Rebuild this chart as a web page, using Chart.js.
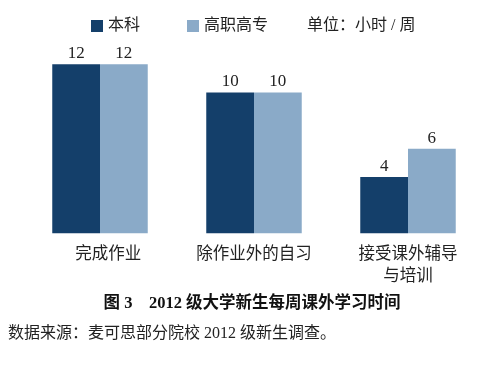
<!DOCTYPE html>
<html lang="zh">
<head>
  <meta charset="UTF-8">
  <title>2012级大学新生每周课外学习时间</title>
  <script src="https://cdn.jsdelivr.net/npm/chart.js"></script>
  <style>
    html, body { margin: 0; padding: 0; background: #fff; }
    #wrap { width: 500px; height: 366px; position: relative; }
  </style>
</head>
<body>
<div id="wrap">
  <canvas id="studyChart" width="500" height="366"></canvas>
</div>
<script>
  const categories = [["完成作业"], ["除作业外的自习"], ["接受课外辅导", "与培训"]];
  const seriesNames = ["本科", "高职高专"];
  const undergrad = [12, 10, 4];
  const vocational = [12, 10, 6];
  const unitText = "单位：小时 / 周";
  const captionText = "图 3　2012 级大学新生每周课外学习时间";
  const sourceText = "数据来源：麦可思部分院校 2012 级新生调查。";

  const darkBlue = "#143F6A";
  const lightBlue = "#8AAAC8";
  const fontStack = "'Liberation Serif', 'DejaVu Serif', 'Noto Sans CJK SC', serif";

  // labels on top of bars, legend row, caption lines
  const extrasPlugin = {
    id: "extras",
    afterDatasetsDraw(chart) {
      const c = chart.ctx;
      c.save();
      c.fillStyle = "#222";
      c.textAlign = "center";
      c.textBaseline = "bottom";
      c.font = "17px " + fontStack;
      chart.data.datasets.forEach((ds, i) => {
        chart.getDatasetMeta(i).data.forEach((bar, j) => {
          c.fillText(ds.data[j], bar.x, bar.y - 2);
        });
      });

      // legend
      c.textAlign = "left";
      c.textBaseline = "middle";
      c.font = "16px " + fontStack;
      const items = [
        { x: 91, color: darkBlue, text: seriesNames[0] },
        { x: 187, color: lightBlue, text: seriesNames[1] }
      ];
      items.forEach(it => {
        c.fillStyle = it.color;
        c.fillRect(it.x, 20, 12, 12);
        c.fillStyle = "#222";
        c.fillText(it.text, it.x + 17, 26);
      });
      c.fillText(unitText, 307, 26);

      // caption and source
      c.textAlign = "center";
      c.font = "bold 16.5px " + fontStack;
      c.fillStyle = "#111";
      c.fillText(captionText, 252, 304);
      c.textAlign = "left";
      c.font = "16px " + fontStack;
      c.fillStyle = "#222";
      c.fillText(sourceText, 8, 334);
      c.restore();
    }
  };

  new Chart(document.getElementById("studyChart"), {
    type: "bar",
    data: {
      labels: categories,
      datasets: [
        { label: seriesNames[0], data: undergrad, backgroundColor: darkBlue },
        { label: seriesNames[1], data: vocational, backgroundColor: lightBlue }
      ]
    },
    options: {
      responsive: false,
      animation: false,
      layout: { padding: { left: 23, right: 15, top: 36, bottom: 76 } },
      datasets: { bar: { barPercentage: 1, categoryPercentage: 0.62 } },
      scales: {
        x: {
          grid: { display: false },
          border: { display: false },
          ticks: {
            color: "#222",
            font: { family: fontStack, size: 16.5, lineHeight: 1.35 },
            padding: 2,
            // first label sits a little right of its bars in the original
            callback: (v, i) => i === 0 ? ["　" + categories[0][0]] : categories[i]
          }
        },
        y: { display: false, min: 0, max: 14 }
      },
      plugins: { legend: { display: false }, tooltip: { enabled: false } }
    },
    plugins: [extrasPlugin]
  });
</script>
</body>
</html>
